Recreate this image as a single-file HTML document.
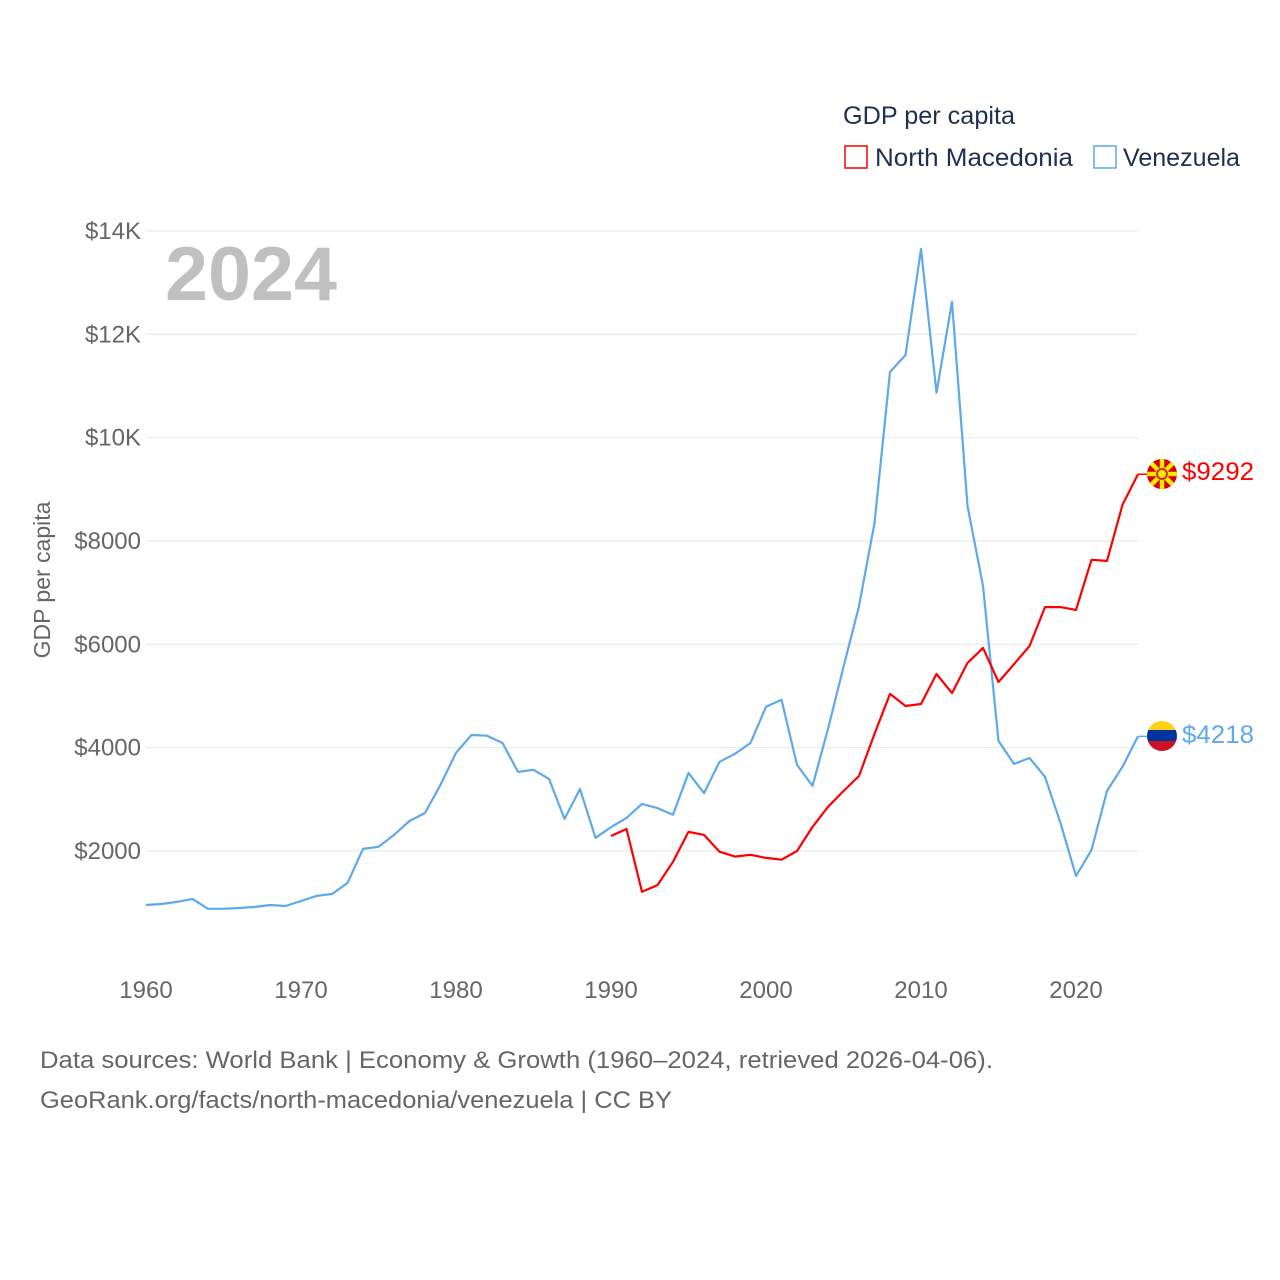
<!DOCTYPE html>
<html><head><meta charset="utf-8"><style>
body{margin:0;background:#fff;font-family:"Liberation Sans",sans-serif;}
svg{display:block}
</style></head><body>
<svg id="chart" width="1280" height="1280" viewBox="0 0 1280 1280" xmlns="http://www.w3.org/2000/svg">
<g id="grid"></g>
<g id="yticks"></g>
<g id="xticks"></g>
<text x="165" y="300" font-size="76" font-weight="bold" fill="#c0c0c0" textLength="172" lengthAdjust="spacingAndGlyphs">2024</text>
<text transform="translate(50,580) rotate(-90)" text-anchor="middle" font-size="23" fill="#666">GDP per capita</text>
<text x="843" y="124" font-size="25" fill="#1f2f4f" textLength="172" lengthAdjust="spacingAndGlyphs">GDP per capita</text>
<g>
<rect x="845" y="146" width="22" height="22" fill="none" stroke="#ff0000" stroke-width="1.5"/>
<text x="875" y="166" font-size="25" fill="#1f2f4f" textLength="198" lengthAdjust="spacingAndGlyphs">North Macedonia</text></g>
<g>
<rect x="1094" y="146" width="22" height="22" fill="none" stroke="#5ea8ec" stroke-width="1.5"/>
<text x="1123" y="166" font-size="25" fill="#1f2f4f" textLength="117" lengthAdjust="spacingAndGlyphs">Venezuela</text></g>
<g id="series"></g>
<g>
<clipPath id="cm"><circle cx="1162" cy="474" r="15"/></clipPath>
<g clip-path="url(#cm)"><rect x="1145" y="457" width="34" height="34" fill="#d20000"/>
<g stroke="#ffe600" stroke-width="4.5"><line x1="1147" y1="474" x2="1177" y2="474"/><line x1="1162" y1="459" x2="1162" y2="489"/><line x1="1151" y1="463" x2="1173" y2="485"/><line x1="1173" y1="463" x2="1151" y2="485"/></g>
<circle cx="1162" cy="474" r="5" fill="#ffe600" stroke="#d20000" stroke-width="1.5"/></g></g>
<g>
<clipPath id="cv"><circle cx="1162" cy="736" r="15"/></clipPath>
<g clip-path="url(#cv)"><rect x="1145" y="719" width="34" height="11" fill="#fcd116"/><rect x="1145" y="730" width="34" height="11" fill="#0033a0"/><rect x="1145" y="741" width="34" height="12" fill="#ce1126"/></g></g>
<text x="1182" y="480" font-size="25" fill="#ff0000" textLength="72" lengthAdjust="spacingAndGlyphs">$9292</text>
<text x="1182" y="743" font-size="25" fill="#5ea8ec" textLength="72" lengthAdjust="spacingAndGlyphs">$4218</text>
<text x="40" y="1068" font-size="24" fill="#666" textLength="953" lengthAdjust="spacingAndGlyphs">Data sources: World Bank | Economy &amp; Growth (1960–2024, retrieved 2026-04-06).</text>
<text x="40" y="1108" font-size="24" fill="#666" textLength="632" lengthAdjust="spacingAndGlyphs">GeoRank.org/facts/north-macedonia/venezuela | CC BY</text>
</svg>
<script>
const yTicks=[2000,4000,6000,8000,10000,12000,14000];
const yTickLabels=["$2000","$4000","$6000","$8000","$10K","$12K","$14K"];
const xTicks=[1960,1970,1980,1990,2000,2010,2020];
const venYears0=1960;
const venezuela=[955,973,1014,1072,880,880,896,915,955,935,1030,1130,1168,1380,2040,2080,2310,2580,2735,3280,3900,4245,4230,4090,3530,3570,3395,2620,3200,2255,2460,2640,2910,2830,2700,3510,3120,3725,3880,4090,4790,4925,3665,3260,4360,5560,6740,8345,11270,11600,13650,10870,12630,8680,7130,4130,3685,3800,3435,2540,1515,2020,3160,3630,4218];
const mkdYears0=1990;
const northMacedonia=[2290,2425,1210,1340,1790,2370,2310,1985,1890,1925,1865,1830,2000,2465,2855,3160,3450,4265,5040,4805,4845,5425,5055,5640,5930,5270,5615,5965,6720,6720,6665,7635,7615,8700,9292];
const NS="http://www.w3.org/2000/svg";
const xs=y=>146+(y-1960)*15.5;
const ys=v=>954.3-v*0.051667;
function mk(tag,attrs,parent){const e=document.createElementNS(NS,tag);for(const k in attrs)e.setAttribute(k,attrs[k]);parent.appendChild(e);return e;}
const grid=document.getElementById('grid'),yt=document.getElementById('yticks'),xt=document.getElementById('xticks'),ser=document.getElementById('series');
yTicks.forEach((v,i)=>{
 const l=mk('line',{x1:146,x2:1138,y1:ys(v),y2:ys(v),stroke:'#e6e6e6','stroke-width':1},grid);
 
 
 const t=mk('text',{x:141,y:ys(v)+8,'text-anchor':'end','font-size':24,fill:'#666'},yt);
 t.textContent=yTickLabels[i];
 
 
});
xTicks.forEach(y=>{
 const t=mk('text',{x:xs(y),y:998,'text-anchor':'middle','font-size':24,fill:'#666'},xt);
 t.textContent=y;
 
 
});
function line(arr,y0,color,name){
 const pts=arr.map((v,i)=>xs(y0+i).toFixed(1)+','+ys(v).toFixed(1));
 const p=mk('polyline',{points:pts.join(' '),fill:'none',stroke:color,'stroke-width':2.2,'stroke-linejoin':'round'},ser);
 
 
 const last=arr[arr.length-1],lx=xs(y0+arr.length-1);
 const c=mk('line',{x1:lx,x2:1147,y1:ys(last),y2:ys(last),stroke:color,'stroke-width':1.5},ser);
 
 
}
line(venezuela,venYears0,'#5ea8ec','line-venezuela');
line(northMacedonia,mkdYears0,'#ff0000','line-north-macedonia');
</script>
</body></html>
